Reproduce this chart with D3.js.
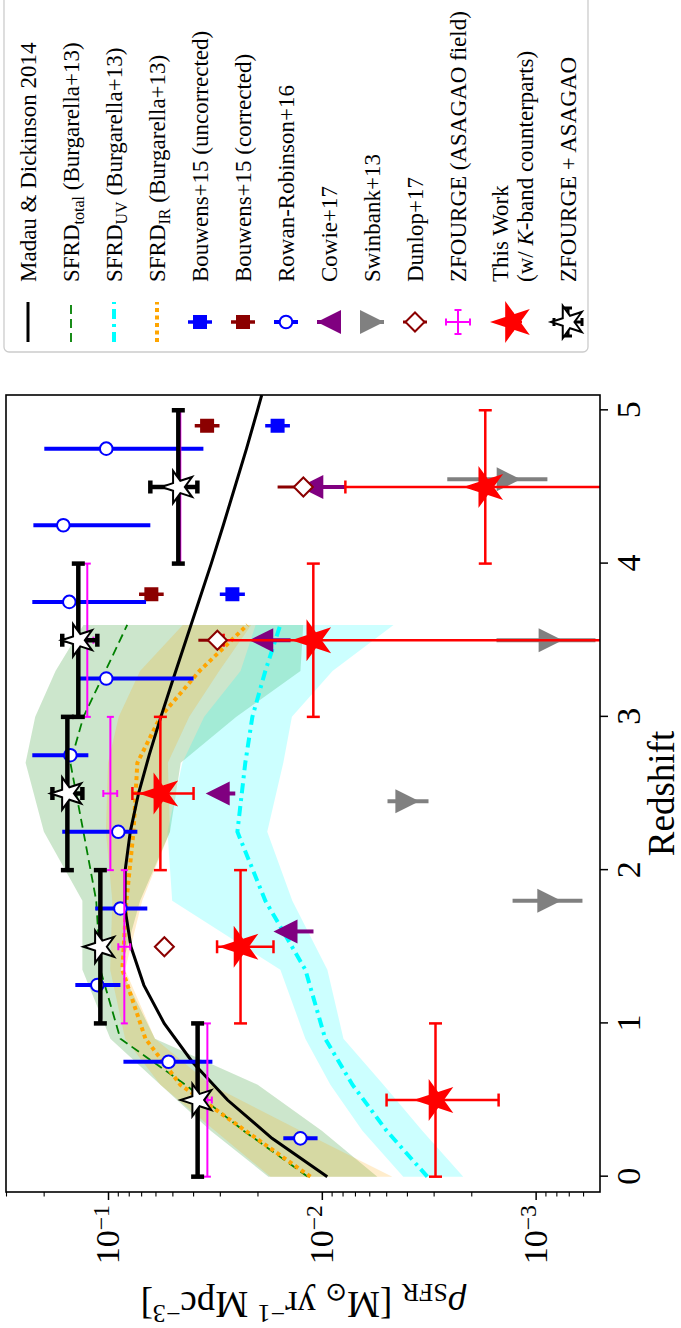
<!DOCTYPE html>
<html><head><meta charset="utf-8">
<script src="https://cdn.jsdelivr.net/npm/d3@7"></script>
<style>
body{margin:0;background:#fff}
text{font-family:"Liberation Serif","Times New Roman",serif;fill:#000}
</style>
</head><body>
<svg id="c" width="681" height="1328"></svg>
<script>
// ---------- DATA ----------
const zTicks = [0, 1, 2, 3, 4, 5];
const rhoTicks = [1e-3, 1e-2, 1e-1];
const rhoTickBase = ["10", "10", "10"];
const rhoTickExp = ["\u22123", "\u22122", "\u22121"];
const rhoMinor = [6e-4,7e-4,8e-4,9e-4,2e-3,3e-3,4e-3,5e-3,6e-3,7e-3,8e-3,9e-3,2e-2,3e-2,4e-2,5e-2,6e-2,7e-2,8e-2,9e-2,2e-1,3e-1];

// Madau & Dickinson 2014 curve
const mdZ = [0,0.25,0.5,0.75,1,1.25,1.5,1.75,2,2.25,2.5,2.75,3,3.25,3.5,3.75,4,4.25,4.5,4.75,5,5.1];
const mdRho = [0.00943,0.0171,0.0276,0.0404,0.0546,0.0680,0.0781,0.0833,0.0831,0.0787,0.0720,0.0642,0.0566,0.0495,0.0432,0.0377,0.0329,0.0289,0.0255,0.0225,0.0200,0.0191];

// Burgarella+13
const burZ = [0,0.3,0.6,0.9,1.35,1.8,2.25,2.7,3.0,3.3,3.6];
const totRho = [0.01164,0.02323,0.04345,0.0875,0.1086,0.1135,0.1303,0.150,0.1303,0.1028,0.0813];
const totHi  = [0.01778,0.0331,0.0569,0.0975,0.1318,0.1318,0.1995,0.243,0.219,0.176,0.1303];
const totLo  = [0.0055,0.0100,0.01995,0.0603,0.0871,0.0708,0.0513,0.0457,0.0251,0.01259,0.01222];
const uvRho  = [0.00321,0.00498,0.00719,0.00964,0.01194,0.01837,0.02483,0.0228,0.02113,0.01837,0.01563];
const uvHi   = [0.00416,0.00646,0.00912,0.01194,0.01563,0.0501,0.0527,0.0449,0.0355,0.0240,0.0204];
const uvLo   = [0.00218,0.00339,0.00515,0.00792,0.00942,0.01374,0.0180,0.01514,0.0138,0.00891,0.00462];
const irRho  = [0.0113,0.02275,0.0459,0.0668,0.0857,0.0820,0.0760,0.0729,0.0569,0.0373,0.0223];
const irHi   = [0.01738,0.0316,0.0569,0.0832,0.0977,0.0955,0.1023,0.100,0.0891,0.0708,0.0447];
const irLo   = [0.00468,0.01259,0.0331,0.0603,0.0832,0.0692,0.0513,0.0525,0.0417,0.0302,0.0214];

// Bouwens+15
const bwZ = [3.8, 4.9];
const bwUncRho = [0.0262, 0.0161];
const bwUncLo = [0.0229, 0.0141];
const bwUncHi = [0.0300, 0.0184];
const bwCorRho = [0.0627, 0.0344];
const bwCorLo = [0.0549, 0.0301];
const bwCorHi = [0.0716, 0.0393];

// Rowan-Robinson+16
const rrZ = [0.25,0.75,1.25,1.75,2.25,2.75,3.25,3.75,4.25,4.75];
const rrRho = [0.0126,0.0521,0.1122,0.0875,0.0895,0.150,0.1019,0.1517,0.1618,0.1019];
const rrHi = [0.01514,0.0847,0.1422,0.1148,0.1637,0.226,0.139,0.226,0.2234,0.1986];
const rrLo = [0.01047,0.0325,0.0875,0.0655,0.0729,0.1236,0.0398,0.0664,0.0634,0.0358];

// Cowie+17 (lower limits)
const cwZ = [1.6, 2.5, 3.5, 4.5];
const cwRho = [0.01479, 0.0307, 0.0192, 0.0112];
const cwLo = [0.01094, 0.0254, 0.0140, 0.00776];

// Swinbank+13 (upper limits)
const swZ = [1.8, 2.45, 3.5, 4.55];
const swRho = [0.000863, 0.00398, 0.000851, 0.001337];
const swHi = [0.001282, 0.00493, 0.001524, 0.00259];
const swLo = [0.000604, 0.00317, 0.000525, 0.000881];

// Dunlop+17
const dnZ = [1.5, 3.5, 4.5];
const dnRho = [0.0545, 0.0308, 0.0122];
const dnHi = [0.0600, 0.0378, 0.0161];
const dnLo = [0.0500, 0.0280, 0.0112];

// ZFOURGE (ASAGAO field)
const zfZ = [0.5, 1.5, 2.5, 3.5, 4.5];
const zfZlo = [0, 1, 2, 3, 4];
const zfZhi = [1, 2, 3, 4, 5];
const zfRho = [0.0343, 0.0839, 0.0975, 0.125, 0.0459];
const zfHi = [0.0360, 0.0895, 0.1052, 0.133, 0.049];
const zfLo = [0.0327, 0.0787, 0.0906, 0.117, 0.043];

// ZFOURGE + ASAGAO
const zaRho = [0.0381, 0.1086, 0.1549, 0.1377, 0.0469];
const zaHi = [0.0395, 0.113, 0.182, 0.1637, 0.0634];
const zaLo = [0.0367, 0.104, 0.1318, 0.1122, 0.0382];

// This Work
const twRho = [0.00294, 0.0240, 0.0569, 0.01096, 0.00172];
const twHi = [0.00498, 0.0309, 0.0769, 0.0288, 0.00776];
const twLo = [0.00149, 0.01683, 0.0398, 0.0001, 0.0001];

// ---------- CHART ----------
const svg = d3.select('#c');
const g = svg.append('g').attr('transform', 'translate(0,1328) rotate(-90)');
const m = {l: 136, r: 933, t: 6, b: 600};
const x = d3.scaleLinear().domain([-0.1, 5.1]).range([m.l, m.r]);
const y = d3.scaleLog().domain([5e-4, 0.3]).range([m.b, m.t]);

g.append('clipPath').attr('id', 'clip').append('rect')
  .attr('x', m.l).attr('y', m.t).attr('width', m.r - m.l).attr('height', m.b - m.t);
const pg = g.append('g').attr('clip-path', 'url(#clip)');

const idxB = d3.range(burZ.length);
function band(lo, hi, col) {
  pg.append('path').datum(idxB)
    .attr('d', d3.area().x(i => x(burZ[i])).y0(i => y(lo[i])).y1(i => y(hi[i])))
    .attr('fill', col).attr('fill-opacity', 0.2).attr('stroke', 'none');
}
band(totLo, totHi, '#008000');
band(uvLo, uvHi, '#00ffff');
band(irLo, irHi, '#ffa500');

function curve(zs, rs, col, w, dash) {
  pg.append('path').datum(d3.range(zs.length))
    .attr('d', d3.line().x(i => x(zs[i])).y(i => y(rs[i])))
    .attr('fill', 'none').attr('stroke', col).attr('stroke-width', w)
    .attr('stroke-dasharray', dash || null);
}
curve(burZ, totRho, '#008000', 1.8, '9,5');
curve(burZ, uvRho, '#00ffff', 4, '10,5,3,5');
curve(burZ, irRho, '#ffa500', 4, '4,3.5');
curve(mdZ, mdRho, '#000', 3);

function starPath(R) {
  const r = R * 0.381966, p = [];
  for (let i = 0; i < 10; i++) {
    const a = -Math.PI / 2 + i * Math.PI / 5, rr = i % 2 ? r : R;
    p.push([rr * Math.cos(a), rr * Math.sin(a)]);
  }
  return 'M' + p.map(q => q[0].toFixed(2) + ',' + q[1].toFixed(2)).join('L') + 'Z';
}
const SHAPES = {
  square: s => `M${-s/2},${-s/2}h${s}v${s}h${-s}Z`,
  tri_up: s => `M0,${-s/2}L${s/2},${s/2}L${-s/2},${s/2}Z`,
  tri_down: s => `M0,${s/2}L${s/2},${-s/2}L${-s/2},${-s/2}Z`,
  diamond: s => `M0,${-s/2}L${s/2},0L0,${s/2}L${-s/2},0Z`,
  star: s => starPath(s / 2)
};

function vbars(G, zs, lo, hi, col, w, cap) {
  const idx = d3.range(zs.length);
  G.selectAll(null).data(idx).join('line')
    .attr('x1', i => x(zs[i])).attr('x2', i => x(zs[i]))
    .attr('y1', i => y(lo[i])).attr('y2', i => y(hi[i]))
    .attr('stroke', col).attr('stroke-width', w);
  if (cap) {
    [lo, hi].forEach(arr => {
      G.selectAll(null).data(idx).join('line')
        .attr('x1', i => x(zs[i]) - cap / 2).attr('x2', i => x(zs[i]) + cap / 2)
        .attr('y1', i => y(arr[i])).attr('y2', i => y(arr[i]))
        .attr('stroke', col).attr('stroke-width', w);
    });
  }
}
function hbars(G, rs, zlo, zhi, col, w, cap) {
  const idx = d3.range(rs.length);
  G.selectAll(null).data(idx).join('line')
    .attr('x1', i => x(zlo[i])).attr('x2', i => x(zhi[i]))
    .attr('y1', i => y(rs[i])).attr('y2', i => y(rs[i]))
    .attr('stroke', col).attr('stroke-width', w);
  if (cap) {
    [zlo, zhi].forEach(arr => {
      G.selectAll(null).data(idx).join('line')
        .attr('x1', i => x(arr[i])).attr('x2', i => x(arr[i]))
        .attr('y1', i => y(rs[i]) - cap / 2).attr('y2', i => y(rs[i]) + cap / 2)
        .attr('stroke', col).attr('stroke-width', w);
    });
  }
}
function markers(G, zs, rs, shape, size, fill, stroke, sw) {
  G.selectAll(null).data(d3.range(zs.length)).join('path')
    .attr('transform', i => `translate(${x(zs[i])},${y(rs[i])})`)
    .attr('d', SHAPES[shape](size))
    .attr('fill', fill).attr('stroke', stroke || 'none').attr('stroke-width', sw || 0)
    .attr('stroke-linejoin', 'miter');
}

// Bouwens+15
let G = pg.append('g');
vbars(G, bwZ, bwUncLo, bwUncHi, '#0000ff', 3.5);
markers(G, bwZ, bwUncRho, 'square', 14, '#0000ff');
vbars(G, bwZ, bwCorLo, bwCorHi, '#8b0000', 3.5);
markers(G, bwZ, bwCorRho, 'square', 14, '#8b0000');

// Rowan-Robinson+16
G = pg.append('g');
vbars(G, rrZ, rrLo, rrHi, '#0000ff', 4);
G.selectAll(null).data(d3.range(rrZ.length)).join('circle')
  .attr('cx', i => x(rrZ[i])).attr('cy', i => y(rrRho[i])).attr('r', 6.3)
  .attr('fill', '#fff').attr('stroke', '#0000ff').attr('stroke-width', 2);

// Cowie+17
G = pg.append('g');
vbars(G, cwZ, cwLo, cwRho, '#800080', 4);
markers(G, cwZ, cwRho, 'tri_up', 24, '#800080');

// Swinbank+13
G = pg.append('g');
vbars(G, swZ, swLo, swHi, '#808080', 4);
markers(G, swZ, swRho, 'tri_down', 24, '#808080');

// ZFOURGE (ASAGAO field)
G = pg.append('g');
hbars(G, zfRho, zfZlo, zfZhi, '#ff00ff', 2, 7);
vbars(G, zfZ, zfLo, zfHi, '#ff00ff', 2, 7);

// ZFOURGE + ASAGAO bars
const GA = pg.append('g');
hbars(GA, zaRho, zfZlo, zfZhi, '#000', 4.5, 13);
vbars(GA, zfZ, zaLo, zaHi, '#000', 4.5, 13);

// This Work
G = pg.append('g');
hbars(G, twRho, zfZlo, zfZhi, '#ff0000', 2.5, 13);
vbars(G, zfZ, twLo, twHi, '#ff0000', 2.5, 13);
markers(G, zfZ, twRho, 'star', 44, '#ff0000');

// Dunlop+17
G = pg.append('g');
vbars(G, dnZ, dnLo, dnHi, '#8b0000', 3);
markers(G, dnZ, dnRho, 'diamond', 19, '#fff', '#8b0000', 2);

// ZFOURGE + ASAGAO stars
markers(pg.append('g'), zfZ, zaRho, 'star', 34, '#fff', '#000', 2);

// frame
g.append('rect').attr('x', m.l).attr('y', m.t).attr('width', m.r - m.l).attr('height', m.b - m.t)
  .attr('fill', 'none').attr('stroke', '#000').attr('stroke-width', 1.6);

// axes
const FONT = '"Liberation Serif","Times New Roman",serif';
const xa = g.append('g').attr('transform', `translate(0,${m.b})`)
  .call(d3.axisBottom(x).tickValues(zTicks).tickSize(8).tickSizeOuter(0).tickPadding(8).tickFormat(d3.format('d')));
xa.select('.domain').remove();
xa.attr('font-size', 34).attr('font-family', FONT);
xa.selectAll('line').attr('stroke-width', 1.5);

const ym = g.append('g').attr('transform', `translate(${m.l},0)`)
  .call(d3.axisLeft(y).tickValues(rhoMinor).tickSize(4.5).tickSizeOuter(0).tickFormat(() => ''));
ym.select('.domain').remove();
ym.selectAll('line').attr('stroke-width', 1.1);
const ya = g.append('g').attr('transform', `translate(${m.l},0)`)
  .call(d3.axisLeft(y).tickValues(rhoTicks).tickSize(8).tickSizeOuter(0).tickPadding(5).tickFormat(() => ''));
ya.select('.domain').remove();
ya.attr('font-size', 34).attr('font-family', FONT);
ya.selectAll('line').attr('stroke-width', 1.5);
ya.selectAll('.tick text').each(function (d, i) {
  const t = d3.select(this).text(null).attr('dy', '0.32em');
  t.append('tspan').text(rhoTickBase[i]);
  t.append('tspan').attr('dy', '-0.45em').attr('font-size', '0.7em').text(rhoTickExp[i]);
});

// axis labels
g.append('text').attr('x', (m.l + m.r) / 2).attr('y', 674).attr('text-anchor', 'middle')
  .attr('font-size', 37).text('Redshift');
const yl = g.append('text').attr('transform', `translate(36,${(m.t + m.b) / 2}) rotate(-90)`)
  .attr('text-anchor', 'middle').attr('font-size', 37);
yl.append('tspan').attr('font-style', 'italic').text('\u03c1');
yl.append('tspan').attr('font-size', '0.7em').attr('dy', '0.3em').text('SFR');
yl.append('tspan').attr('dy', '-0.21em').text(' [M');
yl.append('tspan').attr('font-size', '0.7em').attr('dy', '0.3em').text('\u2299');
yl.append('tspan').attr('dy', '-0.21em').text(' yr');
yl.append('tspan').attr('font-size', '0.7em').attr('dy', '-0.5em').text('\u22121');
yl.append('tspan').attr('dy', '0.35em').text(' Mpc');
yl.append('tspan').attr('font-size', '0.7em').attr('dy', '-0.5em').text('\u22123');
yl.append('tspan').attr('dy', '0.35em').text(']');

// ---------- LEGEND ----------
const legendLabels = ["Madau & Dickinson 2014", "SFRD|total| (Burgarella+13)", "SFRD|UV| (Burgarella+13)",
  "SFRD|IR| (Burgarella+13)", "Bouwens+15 (uncorrected)", "Bouwens+15 (corrected)", "Rowan-Robinson+16",
  "Cowie+17", "Swinbank+13", "Dunlop+17", "ZFOURGE (ASAGAO field)", "This Work", "ZFOURGE + ASAGAO"];
const legendY = [28, 71, 114, 157, 200, 243, 286, 329, 372, 415, 458, 512, 568];
const L = g.append('g');
L.append('rect').attr('x', 976).attr('y', 4).attr('width', 400).attr('height', 584).attr('rx', 5)
  .attr('fill', '#fff').attr('fill-opacity', 0.85).attr('stroke', '#cccccc').attr('stroke-width', 1.3);
const hx = 1006, hl = 986, hr = 1026, tx = 1046;
function legLine(yy, col, w, dash) {
  L.append('line').attr('x1', hl).attr('x2', hr).attr('y1', yy).attr('y2', yy)
    .attr('stroke', col).attr('stroke-width', w).attr('stroke-dasharray', dash || null);
}
function legMark(yy, shape, size, fill, stroke, sw) {
  L.append('path').attr('transform', `translate(${hx},${yy})`).attr('d', SHAPES[shape](size))
    .attr('fill', fill).attr('stroke', stroke || 'none').attr('stroke-width', sw || 0);
}
function legV(yy, col, w, half, cap) {
  L.append('line').attr('x1', hx).attr('x2', hx).attr('y1', yy - half).attr('y2', yy + half)
    .attr('stroke', col).attr('stroke-width', w);
  if (cap) [-half, half].forEach(o => L.append('line').attr('x1', hx - cap / 2).attr('x2', hx + cap / 2)
    .attr('y1', yy + o).attr('y2', yy + o).attr('stroke', col).attr('stroke-width', w));
}
function legH(yy, col, w, half, cap) {
  L.append('line').attr('x1', hx - half).attr('x2', hx + half).attr('y1', yy).attr('y2', yy)
    .attr('stroke', col).attr('stroke-width', w);
  if (cap) [-half, half].forEach(o => L.append('line').attr('x1', hx + o).attr('x2', hx + o)
    .attr('y1', yy - cap / 2).attr('y2', yy + cap / 2).attr('stroke', col).attr('stroke-width', w));
}
legLine(legendY[0], '#000', 3);
legLine(legendY[1], '#008000', 1.8, '9,5');
legLine(legendY[2], '#00ffff', 4, '10,5,3,5');
legLine(legendY[3], '#ffa500', 4, '4,3.5');
legV(legendY[4], '#0000ff', 3.5, 12); legMark(legendY[4], 'square', 14, '#0000ff');
legV(legendY[5], '#8b0000', 3.5, 12); legMark(legendY[5], 'square', 14, '#8b0000');
legV(legendY[6], '#0000ff', 4, 12);
L.append('circle').attr('cx', hx).attr('cy', legendY[6]).attr('r', 6.3).attr('fill', '#fff').attr('stroke', '#0000ff').attr('stroke-width', 2);
legV(legendY[7], '#800080', 4, 12); legMark(legendY[7], 'tri_up', 24, '#800080');
legV(legendY[8], '#808080', 4, 12); legMark(legendY[8], 'tri_down', 24, '#808080');
legV(legendY[9], '#8b0000', 3, 12); legMark(legendY[9], 'diamond', 19, '#fff', '#8b0000', 2);
legH(legendY[10], '#ff00ff', 2, 12, 7); legV(legendY[10], '#ff00ff', 2, 12, 7);
legH(legendY[11], '#ff0000', 2.5, 10); legV(legendY[11], '#ff0000', 2.5, 10); legMark(legendY[11], 'star', 44, '#ff0000');
legH(legendY[12], '#000', 3, 14, 8); legV(legendY[12], '#000', 3, 14, 8); legMark(legendY[12], 'star', 34, '#fff', '#000', 2);

legendLabels.forEach((lab, i) => {
  const t = L.append('text').attr('x', tx).attr('font-size', 23);
  if (i === 11) {
    t.attr('y', 500 + 8).text('This Work');
    const t2 = L.append('text').attr('x', tx).attr('y', 525 + 8).attr('font-size', 23);
    t2.append('tspan').text('(w/ ');
    t2.append('tspan').attr('font-style', 'italic').text('K');
    t2.append('tspan').text('-band counterparts)');
    return;
  }
  t.attr('y', legendY[i] + 8);
  const parts = lab.split('|');
  if (parts.length === 3) {
    t.append('tspan').text(parts[0]);
    t.append('tspan').attr('font-size', 16).attr('dy', 5).text(parts[1]);
    t.append('tspan').attr('dy', -5).text(parts[2]);
  } else {
    t.text(lab);
  }
});
</script>
</body></html>
